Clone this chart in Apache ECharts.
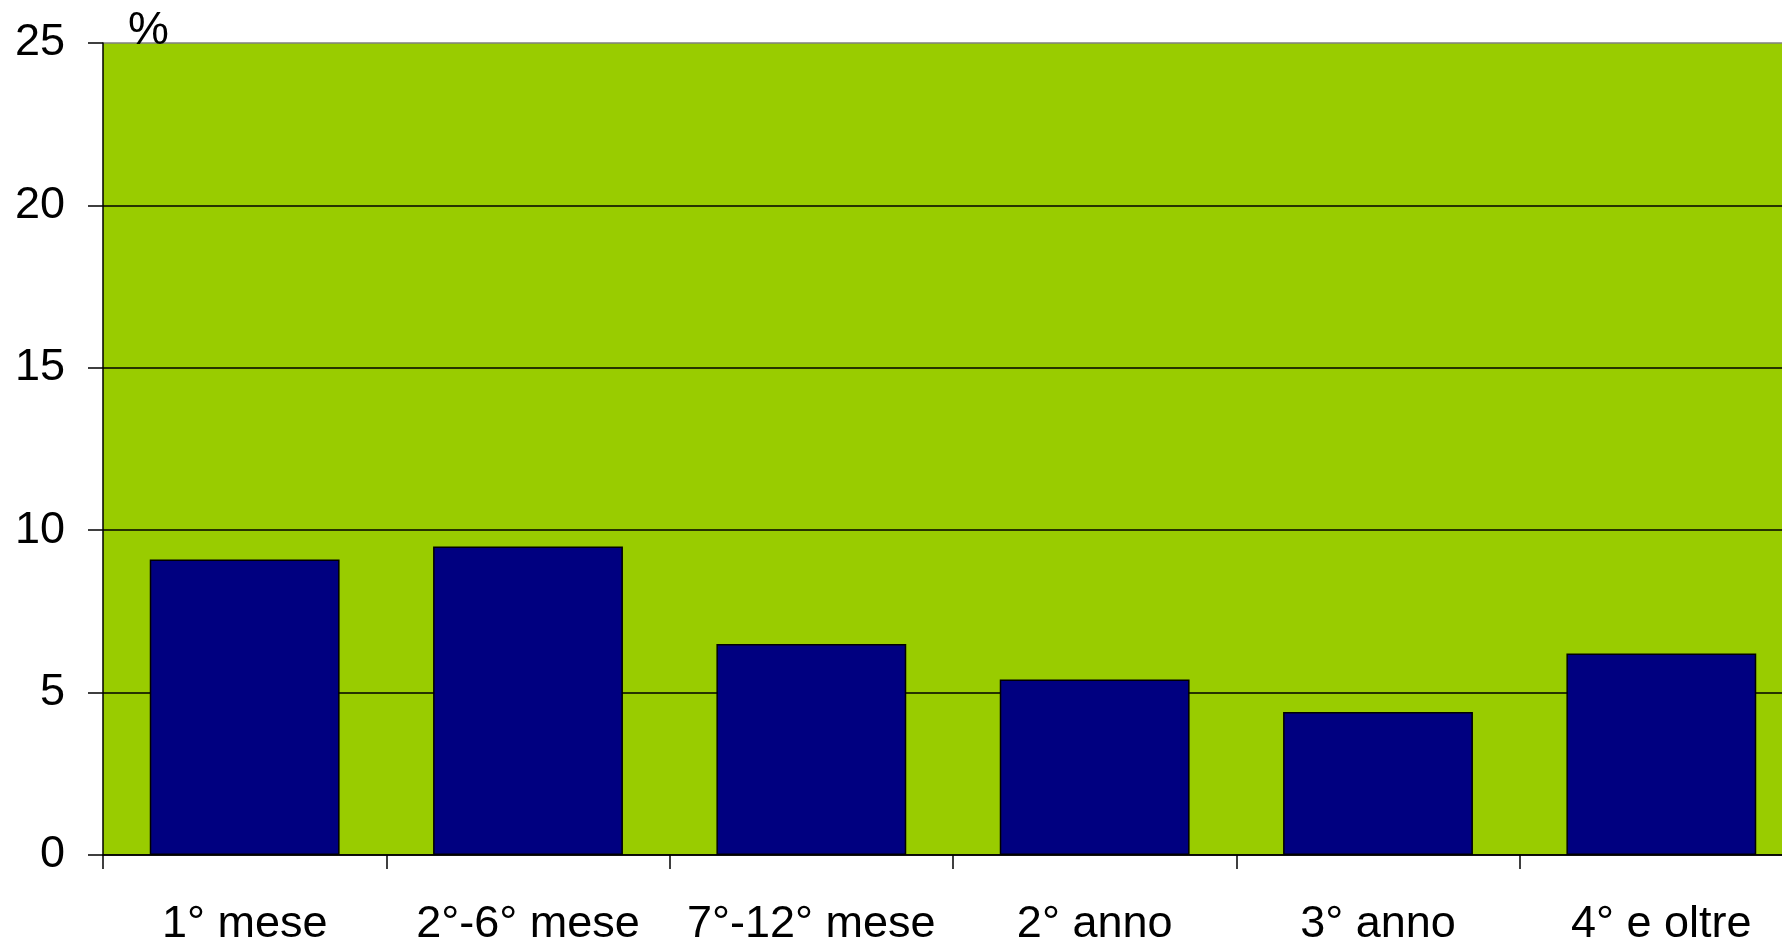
<!DOCTYPE html>
<html>
<head>
<meta charset="utf-8">
<script src="https://cdn.jsdelivr.net/npm/echarts@6/dist/echarts.min.js"></script>
<style>
html,body{margin:0;padding:0;background:#fff;}
#c{width:1782px;height:942px;}
</style>
</head>
<body>
<div id="c"></div>
<script>
const categories = ['1° mese', '2°-6° mese', '7°-12° mese', '2° anno', '3° anno', '4° e oltre'];
const values = [9.1, 9.5, 6.5, 5.4, 4.4, 6.2];
const yTicks = { min: 0, max: 25, interval: 5 };
const unitLabel = '%';

const chart = echarts.init(document.getElementById('c'), null, { renderer: 'canvas' });
const font = 'Liberation Sans, Arial, sans-serif';
chart.setOption({
  animation: false,
  backgroundColor: '#ffffff',
  title: {
    text: unitLabel,
    left: 123,
    top: 3,
    textStyle: { fontFamily: font, fontSize: 46, fontWeight: 'normal', color: '#000' }
  },
  grid: {
    left: 103, top: 43, width: 1700, height: 812,
    outerBoundsMode: 'none', containLabel: false,
    show: true, backgroundColor: '#99CC00', borderWidth: 0
  },
  xAxis: {
    type: 'category',
    data: categories,
    boundaryGap: true,
    axisLine: { show: true, lineStyle: { color: '#000', width: 1.5 } },
    axisTick: { show: true, length: 14, lineStyle: { color: '#000', width: 1.5 } },
    axisLabel: { fontFamily: font, fontSize: 45, color: '#000', margin: 47, interval: 0 },
    splitLine: { show: false }
  },
  yAxis: {
    type: 'value',
    min: yTicks.min, max: yTicks.max, interval: yTicks.interval,
    axisLine: { show: true, lineStyle: { color: '#000', width: 1.5 } },
    axisTick: { show: true, length: 15, lineStyle: { color: '#000', width: 1.5 } },
    axisLabel: { fontFamily: font, fontSize: 45, color: '#000', margin: 38 },
    splitLine: { show: true, lineStyle: { color: ['#000','#000','#000','#000','#000','#808080'], width: 1.5 } }
  },
  series: [{
    type: 'bar',
    data: values,
    barWidth: '67%',
    itemStyle: { color: '#000080', borderColor: '#000', borderWidth: 1.5 }
  }]
});
</script>
</body>
</html>
